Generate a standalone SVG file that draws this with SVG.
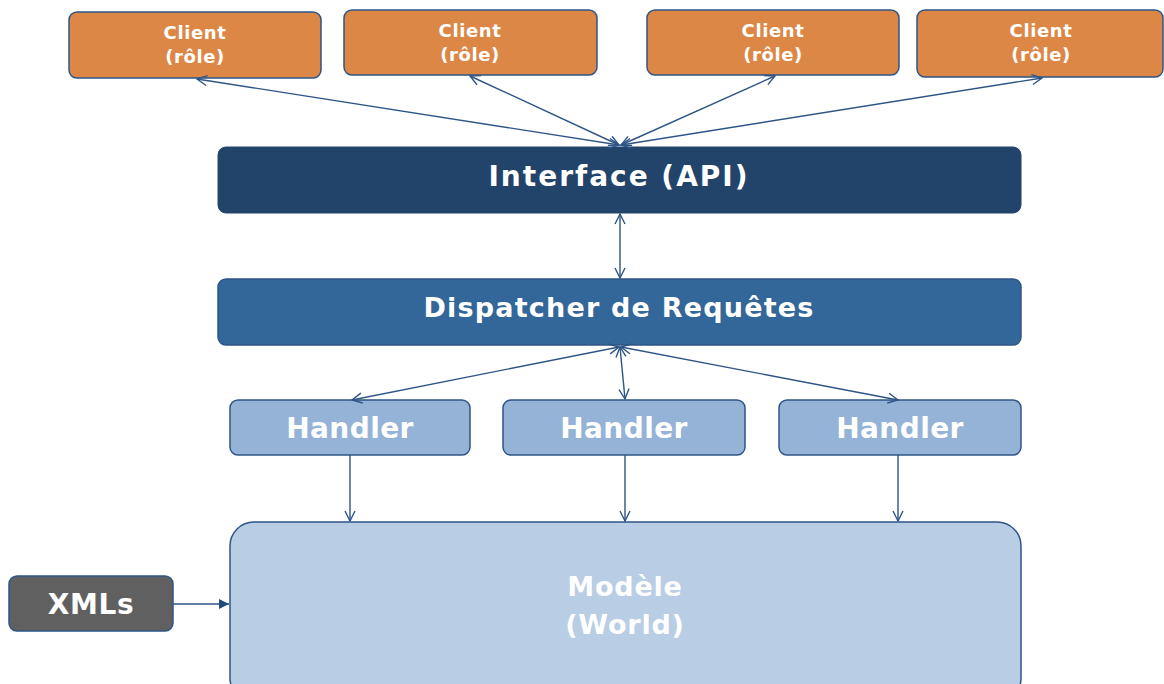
<svg xmlns="http://www.w3.org/2000/svg" width="1164" height="684" viewBox="0 0 1164 684">
<defs>
<marker id="open" viewBox="0 0 12 12" refX="11" refY="6" markerWidth="12" markerHeight="12" markerUnits="userSpaceOnUse" orient="auto-start-reverse"><path d="M1,1 L11,6 L1,11" fill="none" stroke="#2e5587" stroke-width="1.4"/></marker>
<marker id="solid" viewBox="0 0 10 10" refX="10" refY="5" markerWidth="10" markerHeight="10" markerUnits="userSpaceOnUse" orient="auto"><path d="M0,0 L10,5 L0,10 Z" fill="#1f4a7a"/></marker>
<style>
.box{stroke:#2e5587;stroke-width:1.5}
.client{fill:#dd8747}
.t{font-family:"DejaVu Sans",Verdana,sans-serif;font-weight:bold;text-anchor:middle;fill:#fff}
.c{font-size:18px;letter-spacing:0.6px}
.big{font-size:27px;letter-spacing:0.8px}
.conn line{stroke:#2e5587;stroke-width:1.4}
</style>
</defs>
<rect width="1164" height="684" fill="#fff"/>
<g id="client1"><rect class="box client" x="69" y="12" width="252" height="66" rx="8"/><text class="t c" x="195" y="39">Client</text><text class="t c" x="195" y="63">(rôle)</text></g>
<g id="client2"><rect class="box client" x="344" y="10" width="253" height="65" rx="8"/><text class="t c" x="470" y="37">Client</text><text class="t c" x="470" y="61">(rôle)</text></g>
<g id="client3"><rect class="box client" x="647" y="10" width="252" height="65" rx="8"/><text class="t c" x="773" y="37">Client</text><text class="t c" x="773" y="61">(rôle)</text></g>
<g id="client4"><rect class="box client" x="917" y="10" width="246" height="67" rx="8"/><text class="t c" x="1041" y="37">Client</text><text class="t c" x="1041" y="61">(rôle)</text></g>
<g id="interface"><rect x="218" y="147" width="803" height="66" rx="8" fill="#22446a" stroke="#22446a"/><text class="t big" x="619" y="186" style="font-size:28px;letter-spacing:2px">Interface (API)</text></g>
<g id="dispatcher"><rect class="box" x="218" y="279" width="803" height="66" rx="8" fill="#336699"/><text class="t big" x="619" y="317" style="letter-spacing:1.2px">Dispatcher de Requêtes</text></g>
<g id="handler1"><rect class="box" x="230" y="400" width="240" height="55" rx="8" fill="#95b3d7"/><text class="t big" x="350" y="438" style="font-size:28px;letter-spacing:0.4px">Handler</text></g>
<g id="handler2"><rect class="box" x="503" y="400" width="242" height="55" rx="8" fill="#95b3d7"/><text class="t big" x="624" y="438" style="font-size:28px;letter-spacing:0.4px">Handler</text></g>
<g id="handler3"><rect class="box" x="779" y="400" width="242" height="55" rx="8" fill="#95b3d7"/><text class="t big" x="900" y="438" style="font-size:28px;letter-spacing:0.4px">Handler</text></g>
<g id="modele"><rect class="box" x="230" y="522" width="791" height="180" rx="24" fill="#b9cde5"/><text class="t big" x="625" y="596">Modèle</text><text class="t big" x="625" y="634">(World)</text></g>
<g id="xmls"><rect class="box" x="9" y="576" width="164" height="55" rx="8" fill="#606060"/><text class="t big" x="91" y="614" style="font-size:28px;letter-spacing:0.6px">XMLs</text></g>
<g id="connectors" class="conn">
<line x1="619" y1="145" x2="197" y2="79" marker-start="url(#open)" marker-end="url(#open)"/>
<line x1="619" y1="145" x2="470" y2="76" marker-start="url(#open)" marker-end="url(#open)"/>
<line x1="621" y1="145" x2="775" y2="76" marker-start="url(#open)" marker-end="url(#open)"/>
<line x1="621" y1="145" x2="1042" y2="78" marker-start="url(#open)" marker-end="url(#open)"/>
<line x1="620" y1="214" x2="620" y2="278" marker-start="url(#open)" marker-end="url(#open)"/>
<line x1="619" y1="347" x2="352" y2="400" marker-start="url(#open)" marker-end="url(#open)"/>
<line x1="620" y1="347" x2="625" y2="399" marker-start="url(#open)" marker-end="url(#open)"/>
<line x1="621" y1="347" x2="898" y2="400" marker-start="url(#open)" marker-end="url(#open)"/>
<line x1="350" y1="455" x2="350" y2="521" marker-end="url(#open)"/>
<line x1="625" y1="455" x2="625" y2="521" marker-end="url(#open)"/>
<line x1="898" y1="455" x2="898" y2="521" marker-end="url(#open)"/>
<line x1="173" y1="604" x2="229" y2="604" marker-end="url(#solid)"/>
</g>
</svg>
